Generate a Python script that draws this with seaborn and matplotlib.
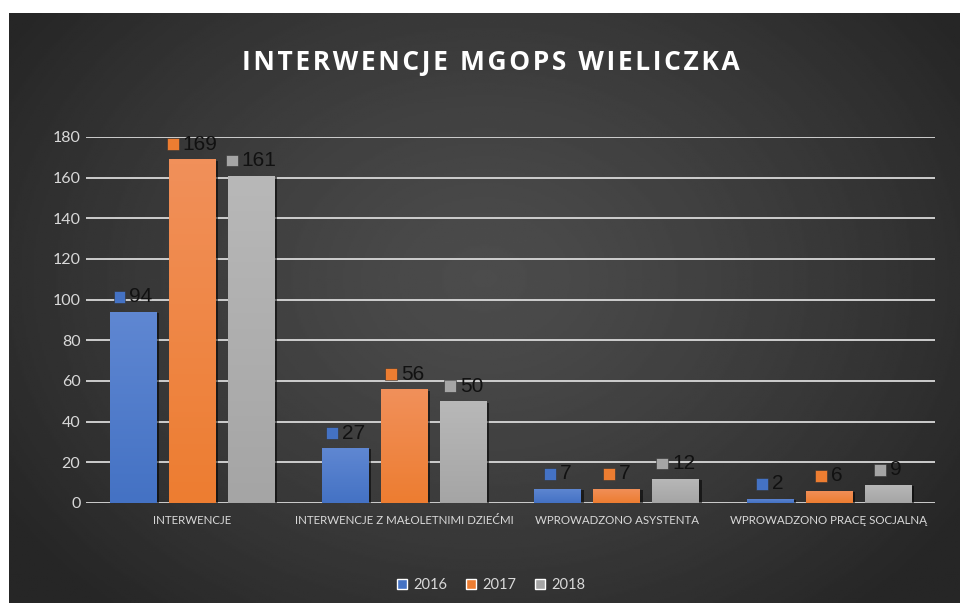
import numpy as np
import pandas as pd
import seaborn as sns
import matplotlib.pyplot as plt
import matplotlib.patheffects as pe
from matplotlib.colors import LinearSegmentedColormap
from matplotlib.patches import Rectangle, Patch
from matplotlib.offsetbox import AnnotationBbox, HPacker, DrawingArea, TextArea


# DANE
categories = ["INTERWENCJE", "INTERWENCJE Z MAŁOLETNIMI DZIEĆMI",
              "WPROWADZONO ASYSTENTA", "WPROWADZONO PRACĘ SOCJALNĄ"]
years = ["2016", "2017", "2018"]
values_2016 = [94, 27, 7, 2]
values_2017 = [169, 56, 7, 6]
values_2018 = [161, 50, 12, 9]
y_ticks = [0, 20, 40, 60, 80, 100, 120, 140, 160, 180]
title = "INTERWENCJE MGOPS WIELICZKA"

colors = ["#4472c4", "#ed7d31", "#a5a5a5"]
top_colors = ["#5f87d2", "#f1905a", "#b8b8b8"]

df = pd.DataFrame({
    "kategoria": categories * 3,
    "rok": [y for y in years for _ in categories],
    "wartosc": values_2016 + values_2017 + values_2018,
})

sns.set_theme(style="dark")
plt.rcParams["font.family"] = ["Lato", "DejaVu Sans"]

fig = plt.figure(figsize=(9.6, 6.03), dpi=100, facecolor="white")

# TLO - gradient radialny
bg = fig.add_axes([9 / 960, 0, 951 / 960, 590 / 603], zorder=-10)
yy, xx = np.mgrid[0:1:300j, 0:1:480j]
r = np.sqrt(((xx - 0.5) / 0.6) ** 2 + ((yy - 0.45) / 0.75) ** 2)
shade = np.clip(76 - 38 * r ** 1.3, 38, 76) / 255
bg.imshow(shade, cmap="gray", vmin=0, vmax=1, aspect="auto", extent=(0, 1, 0, 1))
bg.set_axis_off()

ax = fig.add_axes([86 / 960, 100 / 603, 849 / 960, 366 / 603])
ax.set_facecolor("none")

sns.barplot(data=df, x="kategoria", y="wartosc", hue="rok", hue_order=years,
            palette=colors, width=0.834, gap=0.21, legend=False,
            linewidth=0, ax=ax)

# gradient na slupkach + cien
for cont, c0, c1 in zip(ax.containers, colors, top_colors):
    cmap = LinearSegmentedColormap.from_list("g", [c0, c1])
    for bar in cont:
        bar.set_path_effects([pe.SimplePatchShadow(offset=(2, -1), shadow_rgbFace="black", alpha=0.55),
                              pe.Normal()])
        x0, y0 = bar.get_x(), bar.get_y()
        im = ax.imshow(np.linspace(0, 1, 64).reshape(-1, 1), cmap=cmap, origin="lower",
                       extent=(x0, x0 + bar.get_width(), y0, y0 + bar.get_height()),
                       aspect="auto", zorder=bar.get_zorder() + 0.1)
        im.set_clip_path(bar)

ax.set_xlim(-0.5, len(categories) - 0.5)
ax.set_ylim(0, 180)
ax.set_yticks(y_ticks)

# ETYKIETY DANYCH
for cont, c0 in zip(ax.containers, colors):
    for bar in cont:
        h = bar.get_height()
        sq = DrawingArea(8.5, 8.5, 0, 0)
        sq.add_artist(Rectangle((0, 0), 8.5, 8.5, facecolor=c0, edgecolor="#333333", lw=0.4))
        txt = TextArea(f"{h:.0f}", textprops=dict(color="#111111", fontsize=15,
                                                   family="Liberation Sans"))
        box = HPacker(children=[sq, txt], align="center", pad=0, sep=3)
        ab = AnnotationBbox(box, (bar.get_x() + bar.get_width() / 2, h),
                            xybox=(0, 4), boxcoords="offset points",
                            box_alignment=(0.5, 0), frameon=False, zorder=5)
        ax.add_artist(ab)

ax.yaxis.grid(True, color="#d9d9d9", lw=1.3)
ax.xaxis.grid(False)
ax.set_axisbelow(True)
for s in ax.spines.values():
    s.set_visible(False)
ax.tick_params(axis="y", length=0, pad=4, labelsize=11.5, labelcolor="#d9d9d9")
ax.tick_params(axis="x", length=0, pad=9, labelsize=8.3, labelcolor="#d9d9d9")
ax.set_xlabel("")
ax.set_ylabel("")

# tytul z rozstrzelonymi literami (hair space)
spaced_title = "\u200a".join(title)
fig.text(491 / 960, 1 - 62 / 603, spaced_title, color="white",
         fontsize=19, fontweight="bold", ha="center", va="center",
         family=["Open Sans", "DejaVu Sans"])

handles = [Patch(facecolor=c) for c in colors]
fig.legend(handles, years, loc="center", bbox_to_anchor=(491 / 960, 1 - 585 / 603),
           ncol=3, frameon=False, labelcolor="#d9d9d9", fontsize=10.5,
           handlelength=0.7, handleheight=0.7, handletextpad=0.4, columnspacing=1.3)

fig.savefig("out.png", dpi=100)
